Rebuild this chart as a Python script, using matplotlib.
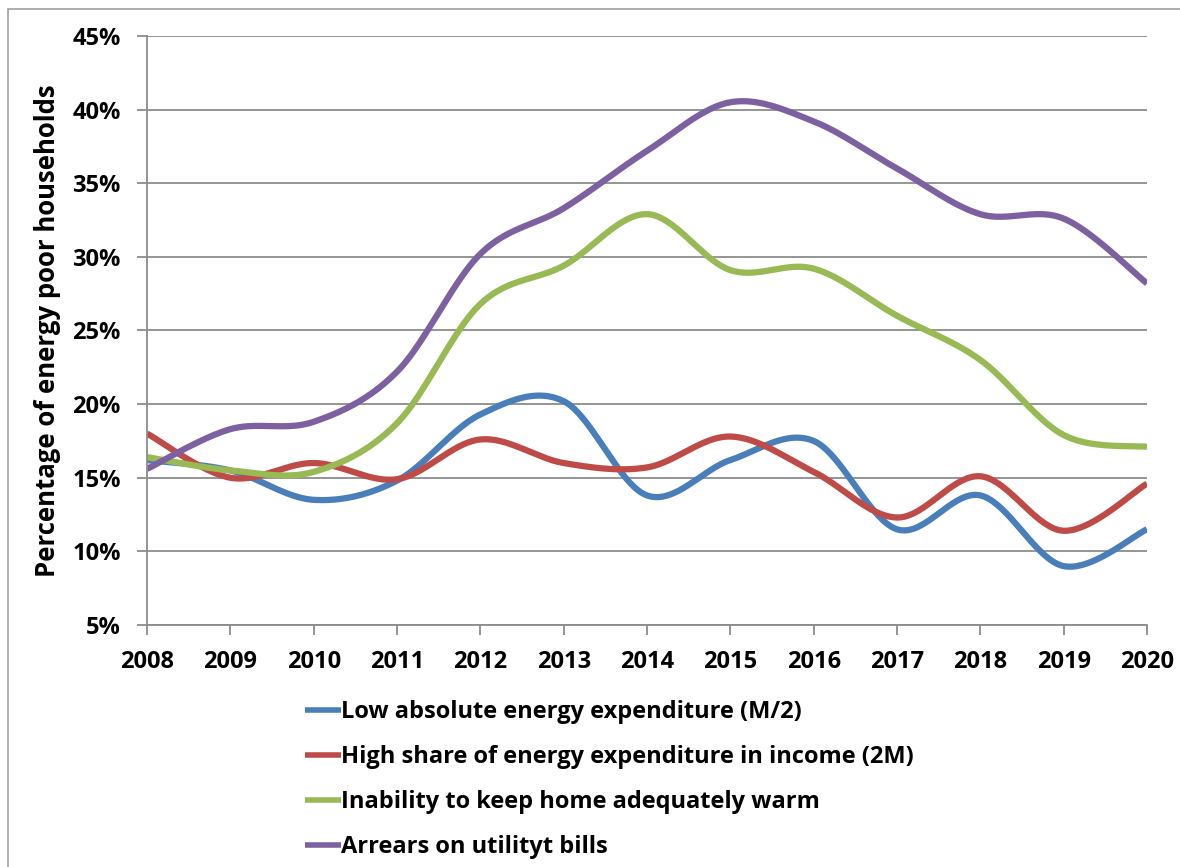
import matplotlib
matplotlib.use("Agg")
import matplotlib.pyplot as plt
import numpy as np
from matplotlib.patches import Rectangle
from matplotlib.ticker import FuncFormatter

years = [2008, 2009, 2010, 2011, 2012, 2013, 2014, 2015, 2016, 2017, 2018, 2019, 2020]
low_abs = [16.2, 15.5, 13.5, 14.8, 19.3, 20.2, 13.8, 16.2, 17.5, 11.5, 13.8, 9.0, 11.5]
high_share = [18.0, 15.0, 16.0, 14.9, 17.6, 16.0, 15.7, 17.8, 15.4, 12.3, 15.1, 11.4, 14.6]
not_warm = [16.4, 15.5, 15.4, 18.7, 26.8, 29.4, 32.9, 29.1, 29.2, 26.0, 23.0, 17.9, 17.1]
arrears = [15.6, 18.3, 18.8, 22.2, 30.2, 33.3, 37.2, 40.5, 39.2, 36.0, 32.9, 32.6, 28.2]

labels = [
    "Low absolute energy expenditure (M/2)",
    "High share of energy expenditure in income (2M)",
    "Inability to keep home adequately warm",
    "Arrears on utilityt bills",
]
colors = ["#4A7EBB", "#BE4B48", "#98B954", "#7D60A0"]


def smooth(x, y, n=40):
    # excel-like smoothed line: bezier segments, catmull-rom control points
    x = np.asarray(x, float)
    y = np.asarray(y, float)
    px = np.concatenate([[x[0]], x, [x[-1]]])
    py = np.concatenate([[y[0]], y, [y[-1]]])
    xs, ys = [], []
    t = np.linspace(0, 1, n)
    for i in range(1, len(px) - 2):
        p0 = np.array([px[i], py[i]])
        p3 = np.array([px[i + 1], py[i + 1]])
        p1 = p0 + (p3 - np.array([px[i - 1], py[i - 1]])) / 6
        p2 = p3 - (np.array([px[i + 2], py[i + 2]]) - p0) / 6
        b = ((1 - t) ** 3)[:, None] * p0 + (3 * (1 - t) ** 2 * t)[:, None] * p1 \
            + (3 * (1 - t) * t ** 2)[:, None] * p2 + (t ** 3)[:, None] * p3
        xs.append(b[:, 0])
        ys.append(b[:, 1])
    return np.concatenate(xs), np.concatenate(ys)


plt.rcParams['font.family'] = ['Open Sans', 'DejaVu Sans']
plt.rcParams['font.weight'] = 'bold'
FS = 17

fig = plt.figure(figsize=(11.8, 8.67), dpi=100)
fig.patches.append(Rectangle((8 / 1180, -0.1), 1.2, 1.1 - 9 / 867,
                             transform=fig.transFigure, fill=False,
                             edgecolor="#a0a0a0", lw=1.2))
ax = fig.add_axes([147 / 1180, 1 - 625 / 867, 1000 / 1180, 589 / 867])

for series, lab, c in zip([low_abs, high_share, not_warm, arrears], labels, colors):
    sx, sy = smooth(years, series)
    ax.plot(sx, sy, color=c, lw=4.5, label=lab, solid_capstyle='butt')

ax.set_xlim(2008, 2020)
ax.set_ylim(5, 45)
ax.set_xticks(years)
ax.set_yticks(range(5, 46, 5))
ax.yaxis.set_major_formatter(FuncFormatter(lambda v, p: f"{v:.0f}%"))
ax.grid(axis='y', color="#8c8c8c", lw=1.3)
ax.set_axisbelow(True)
for s in ['top', 'right']:
    ax.spines[s].set_visible(False)
for s in ['left', 'bottom']:
    ax.spines[s].set_color("#8c8c8c")
    ax.spines[s].set_linewidth(1.3)
ax.tick_params(axis='both', colors="#8c8c8c", width=1.3, length=7, labelsize=FS,
               labelcolor='black')
ax.tick_params(axis='x', pad=11)
ax.tick_params(axis='y', pad=12)
for lbl in ax.get_xticklabels() + ax.get_yticklabels():
    lbl.set_fontweight('bold')
ax.set_ylabel("Percentage of energy poor households", fontsize=18.5,
              fontweight='bold', labelpad=8)

leg = fig.legend(loc='upper left', bbox_to_anchor=(296 / 1180, 1 - 691 / 867),
                 frameon=False, fontsize=FS, handlelength=1.5, handletextpad=0.0,
                 labelspacing=0.88, borderaxespad=0)
for line in leg.get_lines():
    line.set_linewidth(4)

fig.savefig("out.png", dpi=100)
